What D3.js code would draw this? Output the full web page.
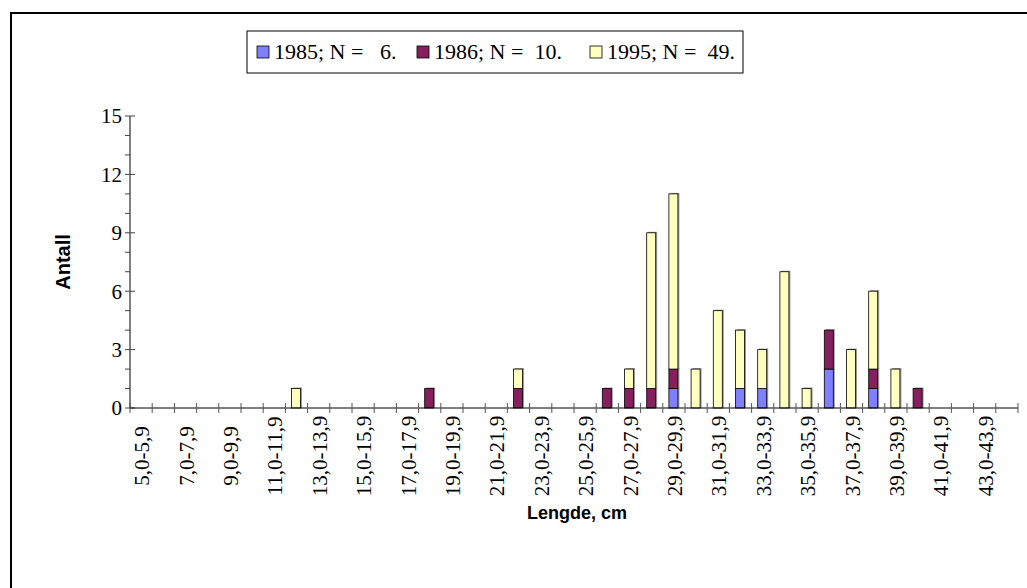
<!DOCTYPE html>
<html><head><meta charset="utf-8">
<script src="https://cdn.jsdelivr.net/npm/d3@7"></script>
<style>body{margin:0;background:#fff}svg{display:block}</style>
</head><body><svg id="c" width="1027" height="588"></svg>
<script>
const categories = [];
for (let i = 5; i <= 44; i++) categories.push(i + ",0-" + i + ",9");
const seriesNames = ["1985; N =   6.", "1986; N =  10.", "1995; N =  49."];
const colors = ["#8080FF", "#851F5E", "#FFFFC0"];
// values per length class (keyed by starting cm)
const v1985 = {"29":1,"32":1,"33":1,"36":2,"38":1};
const v1986 = {"18":1,"22":1,"26":1,"27":1,"28":1,"29":1,"36":2,"38":1,"40":1};
const v1995 = {"12":1,"22":1,"27":1,"28":8,"29":9,"30":2,"31":5,"32":3,"33":2,"34":7,"35":1,"37":3,"38":4,"39":2};
const yTicks = [0,3,6,9,12,15];

const svg = d3.select("#c");
svg.append("rect").attr("x",11).attr("y",13).attr("width",1040).attr("height",600)
  .attr("fill","none").attr("stroke","#000").attr("stroke-width",2);

const x = d3.scaleBand().domain(categories).range([130,1018]).padding(0);
const y = d3.scaleLinear().domain([0,15]).range([408,116]);

const rows = categories.map((c,i)=>{const k=String(i+5);return {c, v:[v1985[k]||0, v1986[k]||0, v1995[k]||0]};});
const stack = d3.stack().keys([0,1,2]).value((d,k)=>d.v[k])(rows);

const bw = 9;
const g = svg.append("g");
stack.forEach((layer,si)=>{
  layer.forEach(d=>{
    if (d[1]-d[0] <= 0) return;
    const cx = x(d.data.c) + x.bandwidth()/2 - 0.5;
    g.append("rect").attr("x",cx-bw/2+1.5).attr("y",y(d[1])-1).attr("width",bw).attr("height",y(d[0])-y(d[1])+1)
      .attr("fill","#9a9a9a");
  });
});
stack.forEach((layer,si)=>{
  layer.forEach(d=>{
    if (d[1]-d[0] <= 0) return;
    const cx = x(d.data.c) + x.bandwidth()/2 - 0.5;
    g.append("rect").attr("x",cx-bw/2).attr("y",y(d[1])).attr("width",bw).attr("height",y(d[0])-y(d[1]))
      .attr("fill",colors[si]).attr("stroke","#000").attr("stroke-width",0.8);
  });
});

// y axis
const ya = svg.append("g");
ya.append("line").attr("x1",130).attr("x2",130).attr("y1",y(15)).attr("y2",y(0)).attr("stroke","#000");
d3.range(0,16).forEach(t=>{
  const major = t%3===0;
  ya.append("line").attr("x1",125).attr("x2",major?135:130).attr("y1",y(t)).attr("y2",y(t)).attr("stroke","#444");
});
yTicks.forEach(t=>{
  ya.append("text").attr("x",122).attr("y",y(t)).attr("dy","0.35em").attr("text-anchor","end")
    .attr("font-family","Liberation Serif").attr("font-size",21).text(t);
});

// x axis
const xa = svg.append("g");
xa.append("line").attr("x1",130).attr("x2",1018).attr("y1",y(0)).attr("y2",y(0)).attr("stroke","#000");
categories.forEach((c,i)=>{
  xa.append("line").attr("x1",x(c)).attr("x2",x(c)).attr("y1",y(0)-5).attr("y2",y(0)+5).attr("stroke","#555");
});
xa.append("line").attr("x1",1018).attr("x2",1018).attr("y1",y(0)-5).attr("y2",y(0)+5).attr("stroke","#555");
categories.forEach((c,i)=>{
  if (i%2!==0) return;
  const cx = x(c)+x.bandwidth()/2;
  xa.append("text").attr("transform",`translate(${cx+8},456) rotate(-90)`).attr("text-anchor","middle")
    .attr("font-family","Liberation Serif").attr("font-size",21).text(c);
});

svg.append("text").attr("transform","translate(70,262) rotate(-90)").attr("text-anchor","middle")
  .attr("font-family","Liberation Sans").attr("font-weight","bold").attr("font-size",20).text("Antall");
svg.append("text").attr("x",577).attr("y",519).attr("text-anchor","middle")
  .attr("font-family","Liberation Sans").attr("font-weight","bold").attr("font-size",18).text("Lengde, cm");

// legend
const lg = svg.append("g");
lg.append("rect").attr("x",247).attr("y",31).attr("width",496).attr("height",42).attr("fill","#fff").attr("stroke","#000");
const lx = [257, 417, 590];
seriesNames.forEach((s,i)=>{
  lg.append("rect").attr("x",lx[i]).attr("y",46).attr("width",12).attr("height",12).attr("fill",colors[i]).attr("stroke","#000").attr("stroke-width",0.8);
  lg.append("text").attr("x",lx[i]+17).attr("y",59).attr("font-family","Liberation Serif").attr("font-size",22)
    .style("white-space","pre").text(s);
});
</script></body></html>
